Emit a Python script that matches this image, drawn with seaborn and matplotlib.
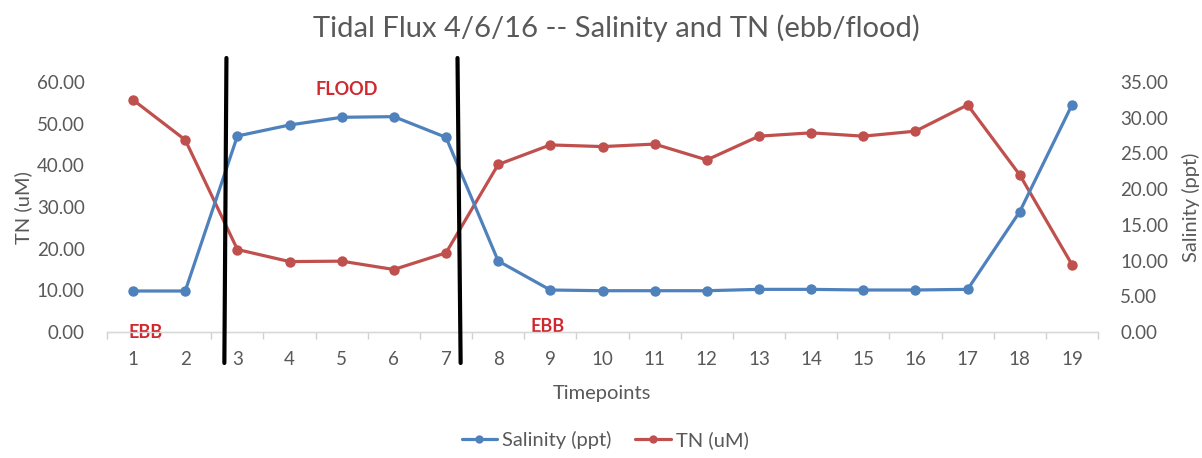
import matplotlib
matplotlib.use("Agg")
import matplotlib.pyplot as plt
import matplotlib.transforms as mtransforms
from matplotlib.ticker import FixedLocator, FormatStrFormatter
import seaborn as sns
import pandas as pd

# ---- data -------------------------------------------------------------
timepoints = list(range(1, 20))
salinity_ppt = [5.74, 5.74, 27.44, 28.98, 30.06, 30.15, 27.25, 9.94, 5.88, 5.78,
                5.78, 5.78, 5.97, 5.97, 5.88, 5.88, 5.97, 16.85, 31.78]
tn_um = [55.7, 46.1, 19.8, 16.9, 17.0, 15.0, 19.0, 40.2, 44.9, 44.5,
         45.1, 41.3, 47.0, 47.8, 47.0, 48.2, 54.5, 37.7, 16.2]
tn_ticks = [0, 10, 20, 30, 40, 50, 60]
salinity_ticks = [0, 5, 10, 15, 20, 25, 30, 35]

# tide changes, as (top, bottom) positions on the timepoint axis
tide_changes = [(2.79, 2.75), (7.22, 7.28)]
# tide phase labels: text, timepoint, TN level
tide_labels = [("EBB", 1.24, 0.0), ("FLOOD", 5.09, 58.3), ("EBB", 8.95, 1.3)]

df = pd.DataFrame({"Timepoint": timepoints,
                   "Salinity (ppt)": salinity_ppt,
                   "TN (uM)": tn_um})

# ---- style ------------------------------------------------------------
sns.set_theme(style="white")
plt.rcParams["font.family"] = ["Lato", "DejaVu Sans"]

GREY = "#595959"
BLUE = "#4F81BD"
RED = "#C0504D"
LABEL_RED = "#D0282E"

fig = plt.figure(figsize=(12.02, 4.58), dpi=100)
fig.subplots_adjust(left=107 / 1202, right=1098 / 1202,
                    top=1 - 82 / 458, bottom=1 - 332 / 458)
ax = fig.add_subplot(111)
ax2 = ax.twinx()

line_kw = dict(marker="o", markersize=7.5, linewidth=2.3, markeredgewidth=0)
sns.lineplot(data=df, x="Timepoint", y="TN (uM)", ax=ax, color=RED,
             label="TN (uM)", **line_kw)
sns.lineplot(data=df, x="Timepoint", y="Salinity (ppt)", ax=ax2, color=BLUE,
             label="Salinity (ppt)", **line_kw)

for a in (ax, ax2):
    if a.get_legend() is not None:
        a.get_legend().remove()

# ---- axes -------------------------------------------------------------
ax.set_xlim(0.5, 19.5)
ax.set_ylim(0, 60)
ax2.set_ylim(0, 35)

ax.xaxis.set_major_locator(FixedLocator(timepoints))
ax.xaxis.set_minor_locator(FixedLocator([t + 0.5 for t in [0] + timepoints]))
ax.set_yticks(tn_ticks)
ax2.set_yticks(salinity_ticks)
ax.yaxis.set_major_formatter(FormatStrFormatter("%.2f"))
ax2.yaxis.set_major_formatter(FormatStrFormatter("%.2f"))

ax.tick_params(axis="x", which="major", length=0, pad=14, labelsize=13.5,
               labelcolor=GREY)
ax.tick_params(axis="x", which="minor", length=5, width=1, color="#D0D0D0",
               direction="out", bottom=True)
ax.tick_params(axis="y", length=0, pad=16, labelsize=13.5, labelcolor=GREY)
ax2.tick_params(axis="y", length=0, pad=16, labelsize=13.5, labelcolor=GREY)

for a in (ax, ax2):
    for side in ("left", "right", "top"):
        a.spines[side].set_visible(False)
    a.spines["bottom"].set_color("#D9D9D9")
    a.spines["bottom"].set_linewidth(1)
    a.grid(False)

ax.set_xlabel("Timepoints", fontsize=14.5, color=GREY)
ax.set_ylabel("TN (uM)", fontsize=14.5, color=GREY)
ax2.set_ylabel("Salinity (ppt)", fontsize=14.5, color=GREY)
ax.xaxis.set_label_coords(0.4995, -0.212)
ax.yaxis.set_label_coords(-0.0757, 0.496)
ax2.yaxis.set_label_coords(1.0845, 0.50)

# ---- tide annotations -------------------------------------------------
blend = mtransforms.blended_transform_factory(ax.transData, ax.transAxes)
for top_x, bottom_x in tide_changes:
    ax2.plot([top_x, bottom_x], [1.096, -0.124], color="black", linewidth=3,
             transform=blend, clip_on=False, zorder=5)

for text, t, level in tide_labels:
    ax.text(t, level, text, color=LABEL_RED, fontsize=13, fontweight="bold",
            ha="center", va="center", zorder=6, clip_on=False)

# ---- title & legend ---------------------------------------------------
fig.text(616 / 1202, 1 - 36.7 / 458, "Tidal Flux 4/6/16 -- Salinity and TN (ebb/flood)",
         ha="center", va="baseline", fontsize=21, color=GREY)

handles = ax2.get_lines()[:1] + ax.get_lines()[:1]
labels = ["Salinity (ppt)", "TN (uM)"]
fig.legend(handles, labels, loc="center", bbox_to_anchor=(605 / 1202, 1 - 440 / 458),
           ncol=2, frameon=False, fontsize=14.5, labelcolor=GREY,
           handlelength=1.75, handletextpad=0.25, columnspacing=1.2,
           markerscale=0.8)

fig.savefig("out.png", dpi=100)
